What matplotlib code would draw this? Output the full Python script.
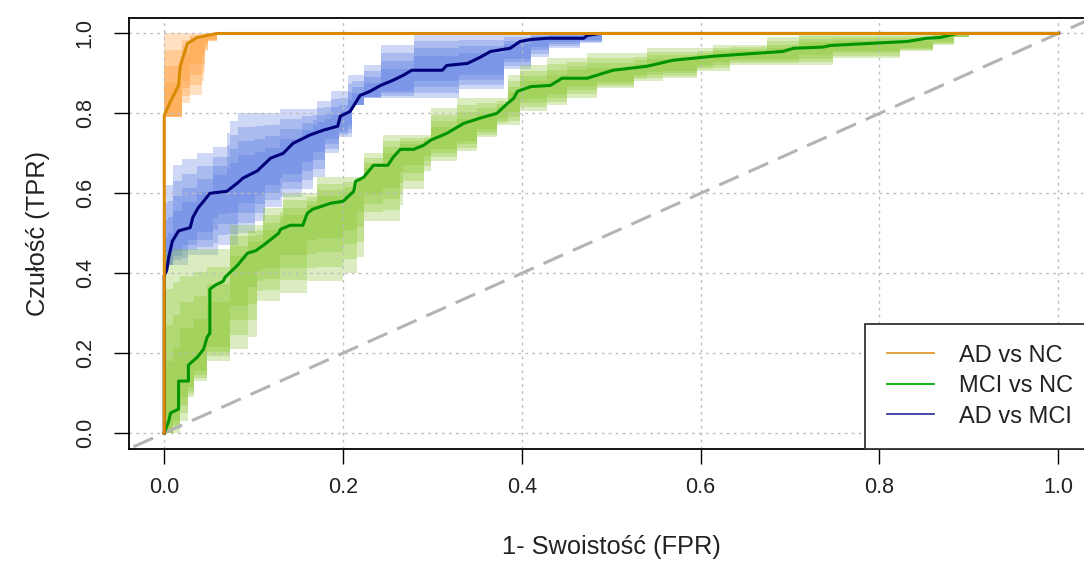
import numpy as np
import matplotlib
matplotlib.use("Agg")
import matplotlib.pyplot as plt
from matplotlib.lines import Line2D

plt.rcParams['font.family'] = ['Liberation Sans', 'DejaVu Sans']

# ---------------- data ----------------
labels = ["AD vs NC", "MCI vs NC", "AD vs MCI"]

ad_nc_fpr = [0, 0, 0.007, 0.016, 0.018, 0.026, 0.037, 0.059, 1.0]
ad_nc_tpr = [0, 0.795, 0.83, 0.87, 0.92, 0.975, 0.99, 1.0, 1.0]

mci_nc_fpr = [0, 0.005, 0.007, 0.016, 0.016, 0.027, 0.027, 0.037, 0.044, 0.048, 0.051, 0.051,
              0.057, 0.066, 0.068, 0.082, 0.093, 0.102, 0.111, 0.128, 0.13, 0.141, 0.155, 0.16,
              0.166, 0.186, 0.2, 0.212, 0.214, 0.223, 0.234, 0.25, 0.256, 0.264, 0.279, 0.29,
              0.298, 0.316, 0.335, 0.353, 0.372, 0.384, 0.391, 0.395, 0.41, 0.432, 0.445, 0.473,
              0.502, 0.54, 0.569, 0.614, 0.633, 0.692, 0.704, 0.737, 0.745, 0.831, 0.853, 0.868,
              0.887, 1.0]
mci_nc_tpr = [0, 0.03, 0.05, 0.06, 0.13, 0.13, 0.17, 0.19, 0.21, 0.24, 0.25, 0.36,
              0.37, 0.38, 0.39, 0.42, 0.45, 0.456, 0.47, 0.50, 0.51, 0.52, 0.52, 0.55,
              0.56, 0.575, 0.58, 0.605, 0.63, 0.64, 0.67, 0.67, 0.69, 0.71, 0.71, 0.72,
              0.733, 0.75, 0.775, 0.788, 0.80, 0.825, 0.838, 0.855, 0.867, 0.87, 0.888, 0.888,
              0.908, 0.918, 0.933, 0.943, 0.946, 0.955, 0.963, 0.966, 0.97, 0.98, 0.988, 0.99,
              1.0, 1.0]

ad_mci_fpr = [0, 0, 0.003, 0.005, 0.009, 0.016, 0.029, 0.032, 0.038, 0.044, 0.051, 0.07,
              0.082, 0.088, 0.104, 0.119, 0.133, 0.144, 0.163, 0.178, 0.194, 0.197, 0.208,
              0.219, 0.23, 0.242, 0.256, 0.267, 0.277, 0.311, 0.316, 0.339, 0.353, 0.365,
              0.387, 0.398, 0.41, 0.428, 0.469, 0.473, 0.488, 1.0]
ad_mci_tpr = [0, 0.394, 0.41, 0.44, 0.48, 0.506, 0.514, 0.54, 0.564, 0.58, 0.60, 0.605,
              0.626, 0.638, 0.656, 0.688, 0.70, 0.725, 0.746, 0.758, 0.768, 0.793, 0.805,
              0.845, 0.855, 0.87, 0.883, 0.895, 0.908, 0.908, 0.92, 0.925, 0.94, 0.955,
              0.963, 0.98, 0.985, 0.988, 0.988, 0.995, 1.0, 1.0]

# confidence bands (step boundaries: x where a new level starts, level)
ad_nc_lo_x = [0, 0.02, 0.029, 0.042, 0.044, 0.046, 0.049, 0.059]
ad_nc_lo_y = [0.79, 0.825, 0.845, 0.88, 0.91, 0.955, 0.98, 1.0]
ad_nc_hi_x = [0, 0.059]
ad_nc_hi_y = [1.0, 1.0]

mci_nc_hi_x = [0, 0.01, 0.074, 0.111, 0.133, 0.171, 0.223, 0.245, 0.298, 0.328, 0.384,
               0.398, 0.428, 0.473, 0.54, 0.614, 0.674, 0.71, 1.0]
mci_nc_hi_y = [0.45, 0.46, 0.52, 0.564, 0.60, 0.64, 0.70, 0.746, 0.813, 0.838, 0.895,
               0.92, 0.938, 0.95, 0.963, 0.97, 0.99, 1.0, 1.0]
mci_nc_lo_x = [0, 0.018, 0.026, 0.033, 0.048, 0.074, 0.094, 0.104, 0.13, 0.16, 0.2, 0.216,
               0.223, 0.264, 0.267, 0.29, 0.298, 0.328, 0.35, 0.372, 0.398, 0.428, 0.45,
               0.484, 0.525, 0.558, 0.596, 0.633, 0.674, 0.748, 0.823, 0.86, 0.883, 0.9, 1.0]
mci_nc_lo_y = [0, 0.03, 0.09, 0.13, 0.18, 0.21, 0.24, 0.33, 0.35, 0.38, 0.40, 0.44,
               0.53, 0.57, 0.61, 0.656, 0.68, 0.705, 0.74, 0.77, 0.805, 0.82, 0.838,
               0.863, 0.88, 0.888, 0.905, 0.92, 0.92, 0.938, 0.955, 0.97, 0.99, 1.0, 1.0]

ad_mci_hi_x = [0, 0.01, 0.02, 0.037, 0.055, 0.07, 0.074, 0.082, 0.13, 0.171, 0.186, 0.205,
               0.223, 0.242, 0.279, 1.0]
ad_mci_hi_y = [0.62, 0.67, 0.685, 0.70, 0.715, 0.75, 0.78, 0.80, 0.81, 0.83, 0.855, 0.895,
               0.92, 0.97, 1.0, 1.0]
ad_mci_lo_x = [0, 0.004, 0.027, 0.06, 0.083, 0.102, 0.113, 0.132, 0.154, 0.166, 0.18, 0.195,
               0.21, 0.223, 0.33, 0.38, 0.41, 0.43, 0.465, 0.49, 1.0]
ad_mci_lo_y = [0.40, 0.42, 0.446, 0.47, 0.50, 0.53, 0.565, 0.59, 0.61, 0.64, 0.70, 0.74,
               0.82, 0.838, 0.86, 0.91, 0.94, 0.963, 0.975, 1.0, 1.0]

diag_x = [-0.1, 1.1]
diag_y = [-0.1, 1.1]

# ---------------- figure ----------------
W, H = 1084, 572
fig = plt.figure(figsize=(W / 100, H / 100), dpi=100)
left_px, right_px, top_px, bot_px = 128.5, 1094, 17.5, 449
ax = fig.add_axes([left_px / W, (H - bot_px) / H, (right_px - left_px) / W, (bot_px - top_px) / H])
ax.set_xlim(-0.04, 1.04)
ax.set_ylim(-0.04, 1.04)


def band(ax, lx, ly, hx, hy, cx, cy, color, alpha, layers=4):
    grid = np.unique(np.concatenate([lx, hx]))
    li = np.clip(np.searchsorted(lx, grid, side='right') - 1, 0, len(ly) - 1)
    hi = np.clip(np.searchsorted(hx, grid, side='right') - 1, 0, len(hy) - 1)
    lo = np.asarray(ly)[li]
    up = np.asarray(hy)[hi]
    # curve level on the grid (upper value at vertical jumps)
    cxa = np.asarray(cx)
    cya = np.asarray(cy)
    ci = np.clip(np.searchsorted(cxa, grid, side='right') - 1, 0, len(cya) - 1)
    cv = np.clip(cya[ci], lo, up)
    for k in range(layers):
        f = 0.8 * k / layers
        l_k = lo + f * (cv - lo)
        u_k = up - f * (up - cv)
        ax.fill_between(grid, l_k, u_k, step='post', color=color, alpha=alpha, lw=0, zorder=1)


band(ax, ad_mci_lo_x, ad_mci_lo_y, ad_mci_hi_x, ad_mci_hi_y, ad_mci_fpr, ad_mci_tpr, '#4a70e0', 0.27)
band(ax, mci_nc_lo_x, mci_nc_lo_y, mci_nc_hi_x, mci_nc_hi_y, mci_nc_fpr, mci_nc_tpr, '#86c428', 0.29)
band(ax, ad_nc_lo_x, ad_nc_lo_y, ad_nc_hi_x, ad_nc_hi_y, ad_nc_fpr, ad_nc_tpr, '#ff9a30', 0.30)

ticks = [0.0, 0.2, 0.4, 0.6, 0.8, 1.0]
ax.set_xticks(ticks)
ax.set_yticks(ticks)
ax.set_xticklabels([f"{t:.1f}" for t in ticks])
ax.set_yticklabels([f"{t:.1f}" for t in ticks])
for t in ticks:
    ax.axvline(t, color='#bdbdbd', lw=1.0, ls=(0, (2, 3)), zorder=2)
    ax.axhline(t, color='#bdbdbd', lw=1.0, ls=(0, (2, 3)), zorder=2)

ax.plot(diag_x, diag_y, color='#b4b4b4', lw=2.2, ls=(0, (7, 3.5)), zorder=3)

ax.plot(ad_nc_fpr, ad_nc_tpr, color='#d98a00', lw=2.2, zorder=6)
ax.plot(mci_nc_fpr, mci_nc_tpr, color='#009500', lw=2.2, zorder=4)
ax.plot(ad_mci_fpr, ad_mci_tpr, color='#00007a', lw=2.2, zorder=5)

for s in ax.spines.values():
    s.set_linewidth(1.3)
    s.set_color('black')

ax.tick_params(axis='both', direction='out', length=10.5, width=1.0, labelsize=15.5, colors='black')
ax.tick_params(axis='x', pad=10)
ax.tick_params(axis='y', pad=13)
for lab in ax.get_yticklabels():
    lab.set_rotation(90)
    lab.set_va('center')
    lab.set_color('#222222')
for lab in ax.get_xticklabels():
    lab.set_color('#222222')

ax.set_xlabel("1- Swoistość (FPR)", fontsize=18.3, color='#222222', labelpad=26)
ax.set_ylabel("Czułość (TPR)", fontsize=18.3, color='#222222', labelpad=18)

handles = [Line2D([0], [0], color='#e09a30', lw=1.3),
           Line2D([0], [0], color='#00aa00', lw=1.3),
           Line2D([0], [0], color='#3a3aa0', lw=1.3)]
leg = ax.legend(handles, labels, loc='lower right', bbox_to_anchor=(1.0, 0.0), borderaxespad=0,
                fontsize=17, frameon=True, fancybox=False, framealpha=1, edgecolor='#333333',
                handlelength=2.0, handletextpad=1.05, labelspacing=0.36, borderpad=0.9)
leg.get_frame().set_linewidth(1.3)
leg.set_zorder(10)
for t in leg.get_texts():
    t.set_color('#222222')

fig.savefig("out.png", dpi=100)
